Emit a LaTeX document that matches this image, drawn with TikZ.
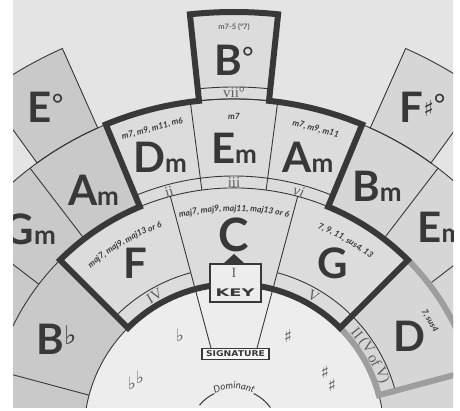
\documentclass[tikz,border=0pt]{standalone}
\usepackage{fontspec}
\usetikzlibrary{decorations.text}
\newfontfamily\chordfont{Lato}
\newfontfamily\romanfont{Liberation Serif}
\newfontfamily\accfont{DejaVu Sans}
\definecolor{paper}{HTML}{E4E4E4}
\definecolor{innerc}{HTML}{EDEDED}
\definecolor{keycell}{HTML}{DCDCDC}
\definecolor{darkcell}{HTML}{C9C9C9}
\definecolor{lightcell}{HTML}{D6D6D6}
\definecolor{ink}{HTML}{383838}
\definecolor{numgray}{HTML}{606060}
\definecolor{dgray}{HTML}{9E9E9E}
\newcommand\mlet{{\fontsize{26}{26}\selectfont m}}
\newcommand\degr{{\mdseries\fontsize{28}{28}\selectfont\raisebox{8pt}{°}}}
\newcommand\extfont{\chordfont\bfseries\itshape\fontsize{8.5}{10}\selectfont}
\newcommand\domfont{\chordfont\itshape\fontsize{9.5}{11}\selectfont}
\tikzset{
  sector/.style n args={4}{insert path={(#1:#3) arc[start angle=#1,end angle=#2,radius=#3] -- (#2:#4) arc[start angle=#2,end angle=#1,radius=#4] -- cycle}},
  thinline/.style={draw=ink, line width=0.9pt},
  keyline/.style={draw=ink, line width=6pt, line join=miter},
  grayline/.style={draw=dgray, line width=6pt, line join=miter},
  chord/.style={text=ink, font=\chordfont\bfseries\fontsize{42}{42}\selectfont, inner sep=0pt},
  ext/.style={text=ink, font=\extfont, inner sep=0pt},
  roman/.style={text=numgray, font=\romanfont\fontsize{15}{15}\selectfont, inner sep=0pt},
  acc/.style={text=numgray, font=\accfont\fontsize{17}{17}\selectfont, inner sep=0pt},
  labelbox/.style={draw=ink, line width=1.4pt, inner sep=0pt},
  boxword/.style={text=ink, font=\accfont\bfseries, inner sep=0pt}
}
\begin{document}
\begin{tikzpicture}[x=1pt,y=1pt]
\useasboundingbox (0,0) rectangle (460,410);
\fill[white] (0,0) rectangle (460,410);
\begin{scope}
\clip (13,3) rectangle (453,410);
\fill[paper] (13,3) rectangle (453,410);
\begin{scope}[shift={(234,-24)}]
% middle ring
\path[fill=darkcell, sector={200}{112.5}{246pt}{335pt}];
\path[fill=keycell, sector={112.5}{67.5}{246pt}{335pt}];
\path[fill=lightcell, sector={67.5}{-20}{246pt}{335pt}];
% inner ring
\path[fill=darkcell, sector={200}{135}{150pt}{246pt}];
\path[fill=keycell, sector={135}{45}{150pt}{246pt}];
\path[fill=lightcell, sector={45}{-20}{150pt}{246pt}];
% outer cells
\path[fill=keycell, thinline, sector={96}{84}{335pt}{422pt}];
\path[fill=darkcell, thinline, sector={126}{114}{335pt}{422pt}];
\path[fill=lightcell, thinline, sector={66}{54}{335pt}{422pt}];
% inner circle
\path[fill=innerc, thinline] (0,0) circle[radius=150pt];
% ring arcs
\draw[thinline] (200:246pt) arc[start angle=200,end angle=-20,radius=246pt];
\draw[thinline] (200:335pt) arc[start angle=200,end angle=-20,radius=335pt];
% radial boundaries
\foreach \t in {195,165,135,45,15,-15} \draw[thinline] (\t:150pt) -- (\t:246pt);
\foreach \t in {105,75} \draw[thinline] (\t:88pt) -- (\t:246pt);
\foreach \t in {187.5,172.5,157.5,142.5,127.5,112.5,97.5,82.5,67.5,52.5,37.5,22.5,7.5,-7.5} \draw[thinline] (\t:246pt) -- (\t:335pt);
% numeral bands
\draw[thinline] (135:167pt) arc[start angle=135,end angle=105,radius=167pt];
\draw[thinline] (75:167pt) arc[start angle=75,end angle=15,radius=167pt];
\draw[thinline] (112.5:258pt) arc[start angle=112.5,end angle=67.5,radius=258pt];
\draw[thinline] (96:347pt) arc[start angle=96,end angle=84,radius=347pt];
% grey outline of D
\draw[grayline] (45:246pt) arc[start angle=45,end angle=15,radius=246pt] -- (15:150pt) arc[start angle=15,end angle=45,radius=150pt];
% key outline
\draw[keyline] (135:150pt) -- (135:246pt) arc[start angle=135,end angle=112.5,radius=246pt]
  -- (112.5:335pt) arc[start angle=112.5,end angle=96,radius=335pt]
  -- (96:422pt) arc[start angle=96,end angle=84,radius=422pt]
  -- (84:335pt) arc[start angle=84,end angle=67.5,radius=335pt]
  -- (67.5:246pt) arc[start angle=67.5,end angle=45,radius=246pt]
  -- (45:150pt) arc[start angle=45,end angle=135,radius=150pt] -- cycle;
% chord names
\node[chord, font=\chordfont\bfseries\fontsize{46}{46}\selectfont] (cC) at (90:199pt) {C};
\node[chord] (cF) at (120:197pt) {F};
\node[chord] (cG) at (60:197pt) {G};
\node[chord] (cD) at (29:201pt) {D};
\node[chord] (cBb) at (152:201pt) {B{\accfont\mdseries\fontsize{26}{26}\selectfont\raisebox{10pt}{♭}}};
\node[chord] (mDm) at (105:286pt) {D\mlet};
\node[chord] (mEm) at (90:286pt) {E\mlet};
\node[chord] (mAm) at (75:286pt) {A\mlet};
\node[chord] (mAmo) at (120:281pt) {A\mlet};
\node[chord] (mGm) at (135:289pt) {G\mlet};
\node[chord] (mBm) at (60:286pt) {B\mlet};
\node[chord] (mEmr) at (45:292pt) {E\mlet};
\node[chord] (oB) at (90:374pt) {B\degr};
\node[chord] (oE) at (120:377pt) {E\degr};
\node[chord] (oF) at (60:377pt) {F{\accfont\mdseries\fontsize{22}{22}\selectfont\raisebox{6pt}{♯}}\degr};
% extensions
\node[ext, rotate=15] (xDm) at (105:316pt) {m7, m9, m11, m6};
\node[ext] (xEm) at (90:318pt) {m7};
\node[ext, rotate=-15] (xAm) at (75:316pt) {m7, m9, m11};
\node[ext, font=\chordfont\bfseries\fontsize{7.5}{9}\selectfont, text=numgray] (xB) at (90:407pt) {m7-5 (°7)};
\node[ext, rotate=-60] (xD) at (30:226pt) {7, sus4};
\path[decorate, decoration={text along path, text={|\extfont|maj7, maj9, maj11, maj13 or 6}, text align=center, text color=ink}] (107:223pt) arc[start angle=107,end angle=73,radius=223pt];
\path[decorate, decoration={text along path, text={|\extfont|maj7, maj9, maj13 or 6}, text align=center, text color=ink}] (136:219pt) arc[start angle=136,end angle=104,radius=219pt];
\path[decorate, decoration={text along path, text={|\extfont|7, 9, 11, sus4, 13}, text align=center, text color=ink}] (76:222pt) arc[start angle=76,end angle=44,radius=222pt];
% numerals
\node[roman, rotate=30] (nIV) at (120:159pt) {IV};
\node[roman, rotate=-30] (nV) at (60:159pt) {V};
\node[roman, rotate=15] (nii) at (105:251pt) {ii};
\node[roman] (niii) at (90:251pt) {iii};
\node[roman, rotate=-15, font=\romanfont\itshape\fontsize{15}{15}\selectfont] (nvi) at (75:251pt) {vi};
\node[roman] (nvii) at (90:341pt) {vii°};
\node[roman, rotate=-50.7] (nII1) at (39.3:159pt) {II};
\node[roman, rotate=-56.3] (nII2) at (33.7:159pt) {(V};
\node[roman, rotate=-62.4] (nII3) at (27.6:159pt) {of};
\node[roman, rotate=-68.4] (nII4) at (21.6:159pt) {V)};
% Dominant
\draw[ink, line width=1pt] (140:45pt) arc[start angle=140,end angle=116,radius=45pt];
\draw[ink, line width=1pt] (64:45pt) arc[start angle=64,end angle=36,radius=45pt];
\path[decorate, decoration={text along path, text={|\domfont|Dominant}, text align=center, text color=ink}] (116:45pt) arc[start angle=116,end angle=64,radius=45pt];
\end{scope}
% key marker and boxes
\fill[ink] (224,147) -- (244,147) -- (234,156) -- cycle;
\node[labelbox, fill=innerc, minimum width=51pt, minimum height=38pt] (keybox) at (235.5,127) {};
\node[roman, font=\romanfont\fontsize{14}{14}\selectfont] (keyI) at (234,137) {I};
\node[boxword, font=\accfont\bfseries\fontsize{10.5}{11}\selectfont, xscale=1.7] (keyword) at (235,117) {KEY};
\node[labelbox, fill=white!60!innerc, minimum width=67pt, minimum height=11pt] (sigbox) at (235.5,56) {};
\node[boxword, font=\accfont\bfseries\fontsize{8}{9}\selectfont, xscale=1.15] (sigword) at (235.5,56) {SIGNATURE};
% accidentals
\node[acc] (flat1) at (180,75) {♭};
\node[acc] (flat2a) at (132,27) {♭};
\node[acc] (flat2b) at (140,33) {♭};
\node[acc] (sharp1) at (288,74) {♯};
\node[acc] (sharp2a) at (325,38) {♯};
\node[acc] (sharp2b) at (332,25) {♯};
\end{scope}
\end{tikzpicture}
\end{document}
